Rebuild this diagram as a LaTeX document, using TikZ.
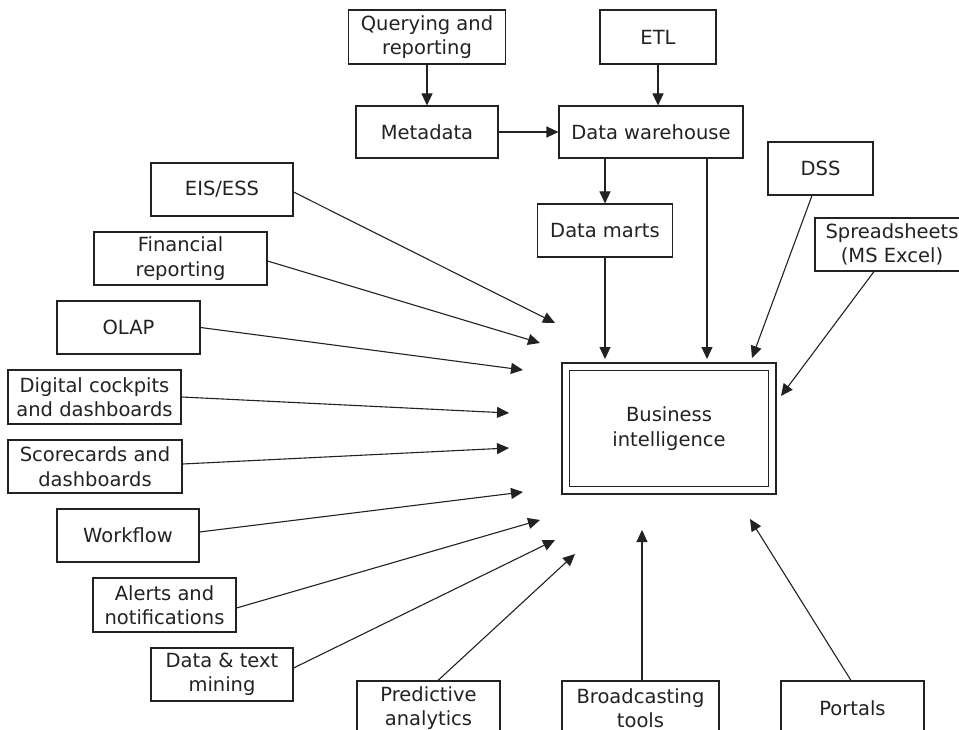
\documentclass[tikz,border=0pt]{standalone}
\usepackage{fontspec}
\setmainfont{DejaVu Sans}
\usetikzlibrary{arrows.meta}
\definecolor{ink}{HTML}{222222}
\begin{document}
\begin{tikzpicture}[x=1pt,y=-1pt,
  bx/.style={draw=ink, line width=1.1pt, align=center, inner sep=0pt, text=ink,
    font=\fontsize{19.5}{24.5}\selectfont},
  conn/.style={draw=ink, line width=1.1pt, -{Triangle[length=12pt,width=11pt]}}]
\useasboundingbox (0,0) rectangle (959,730);
\clip (0,0) rectangle (959,730);
\fill[white] (0,0) rectangle (959,730);
% top
\node[bx, minimum width=157pt, minimum height=54pt] (q) at (427,37) {Querying and\\reporting};
\node[bx, minimum width=116pt, minimum height=54pt] (etl) at (658,37) {ETL};
\node[bx, minimum width=142pt, minimum height=52pt] (m) at (427,132) {Metadata};
\node[bx, minimum width=184pt, minimum height=52pt] (dw) at (651,132) {Data warehouse};
\node[bx, minimum width=135pt, minimum height=53pt] (dm) at (605,230.5) {Data marts};
\node[bx, minimum width=105pt, minimum height=53pt] (dss) at (820.5,168.5) {DSS};
\node[bx, minimum width=154pt, minimum height=53pt] (ss) at (892,244.5) {Spreadsheets\\(MS Excel)};
% left
\node[bx, minimum width=142pt, minimum height=53pt] (eis) at (222,189.5) {EIS/ESS};
\node[bx, minimum width=173pt, minimum height=53pt] (fin) at (180.5,258.5) {Financial\\reporting};
\node[bx, minimum width=143pt, minimum height=53pt] (olap) at (128.5,327.5) {OLAP};
\node[bx, minimum width=173pt, minimum height=54pt] (dig) at (94.5,397) {Digital cockpits\\and dashboards};
\node[bx, minimum width=174pt, minimum height=53pt] (sc) at (95,466.5) {Scorecards and\\dashboards};
\node[bx, minimum width=142pt, minimum height=53pt] (wf) at (128,535.5) {Workflow};
\node[bx, minimum width=143pt, minimum height=54pt] (al) at (164.5,605) {Alerts and\\notifications};
\node[bx, minimum width=142pt, minimum height=53pt] (mi) at (222,674.5) {Data \& text\\mining};
% bottom
\node[bx, minimum width=143pt, minimum height=54pt] (pa) at (428.5,708) {Predictive\\analytics};
\node[bx, minimum width=157pt, minimum height=54pt] (bt) at (640.5,708) {Broadcasting\\tools};
\node[bx, minimum width=143pt, minimum height=54pt] (po) at (852.5,708) {Portals};
% BI
\node[bx, minimum width=214pt, minimum height=131pt] (bi) at (669,428.5) {Business\\intelligence};
\draw[draw=ink, line width=1.1pt] ([shift={(8pt,-8pt)}]bi.north west) rectangle ([shift={(-8pt,8pt)}]bi.south east);
% tips
\coordinate (teis) at (555,323);
\coordinate (tfin) at (540,343);
\coordinate (tolap) at (523,370);
\coordinate (tdig) at (509,413);
\coordinate (tsc) at (509,448);
\coordinate (twf) at (523,492);
\coordinate (tal) at (540,520);
\coordinate (tmi) at (555,540);
\coordinate (tpa) at (575,554);
\coordinate (tbt) at (642,530);
\coordinate (tpo) at (750,519);
\coordinate (tdss) at (752,358);
\coordinate (tss) at (781,396);
\coordinate (tdm) at (605,359);
\coordinate (tdw) at (707,359);
% top connectors
\draw[conn] (q.south) -- (q.south |- m.north);
\draw[conn] (etl.south) -- (etl.south |- dw.north);
\draw[conn] (m.east) -- (dw.west);
\draw[conn] (dw.south -| dm.north) -- (dm.north);
\draw[conn] (dm.south) -- (tdm);
\draw[conn] (dw.south -| tdw) -- (tdw);
\draw[conn] ([xshift=-8.5pt]dss.south) -- (tdss);
\draw[conn] ([xshift=-18pt]ss.south) -- (tss);
% left connectors
\draw[conn] ([yshift=-2.5pt]eis.east) -- (teis);
\draw[conn] ([yshift=-2.5pt]fin.east) -- (tfin);
\draw[conn] (olap.east) -- (tolap);
\draw[conn] (dig.east) -- (tdig);
\draw[conn] ([yshift=2.5pt]sc.east) -- (tsc);
\draw[conn] ([yshift=3.5pt]wf.east) -- (twf);
\draw[conn] ([yshift=-3pt]al.east) -- (tal);
\draw[conn] ([yshift=6.5pt]mi.east) -- (tmi);
% bottom connectors
\draw[conn] ([xshift=9.5pt]pa.north) -- (tpa);
\draw[conn] ([xshift=1.5pt]bt.north) -- (tbt);
\draw[conn] ([xshift=-1.5pt]po.north) -- (tpo);
\end{tikzpicture}
\end{document}
